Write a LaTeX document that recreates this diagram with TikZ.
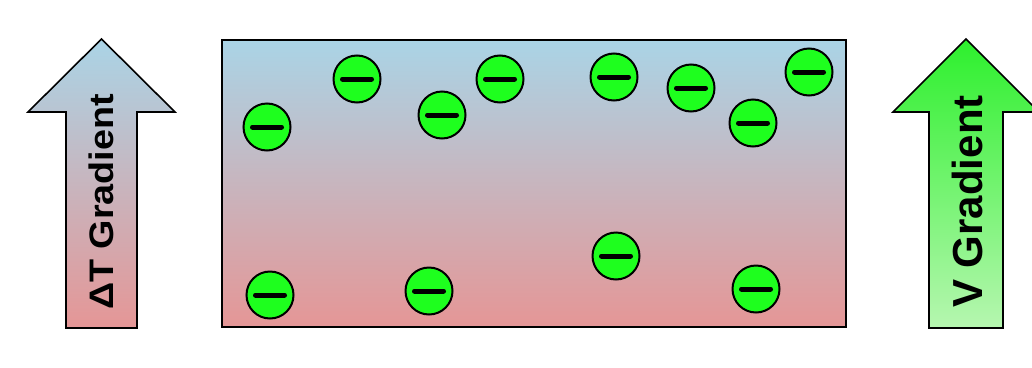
\documentclass[tikz,border=0pt]{standalone}
\usepackage{fontspec}
\setmainfont{Liberation Sans}
\definecolor{tblue}{RGB}{170,212,230}
\definecolor{tpink}{RGB}{229,150,150}
\definecolor{vtop}{RGB}{45,240,45}
\definecolor{vbot}{RGB}{182,246,176}
\definecolor{chargegreen}{RGB}{30,255,30}
\begin{document}
\begin{tikzpicture}[x=1pt,y=-1pt,
  charge/.style={circle, draw=black, line width=2pt, fill=chargegreen,
    minimum size=47pt, inner sep=0pt,
    path picture={\draw[line width=5pt, line cap=round]
      ([xshift=-14.5pt]path picture bounding box.center) --
      ([xshift=14.5pt]path picture bounding box.center);}},
  bigarrow/.style={draw=black, line width=1.6pt, line join=miter},
  label/.style={rotate=90, inner sep=0pt, text=black}]
\useasboundingbox (0,0) rectangle (1032,367);
% left arrow
\draw[bigarrow, top color=tblue, bottom color=tpink]
  (101.5,39) -- (175,112) -- (137,112) -- (137,328) -- (66,328) -- (66,112) -- (28,112) -- cycle;
\node[label, font=\bfseries\fontsize{34}{34}\selectfont] (tlab) at (101,202) {\scalebox{1.11}[1]{ΔT Gradient}};
% right arrow
\draw[bigarrow, top color=vtop, bottom color=vbot]
  (966,39) -- (1039,112) -- (1003,112) -- (1003,328) -- (929,328) -- (929,112) -- (893,112) -- cycle;
\node[label, font=\bfseries\fontsize{42}{42}\selectfont] (vlab) at (967,201.5) {V Gradient};
% box
\draw[line width=2pt, top color=tblue, bottom color=tpink] (222,40) rectangle (846,327);
% charges
\node[charge] (e1) at (267,127) {};
\node[charge] (e2) at (357,79) {};
\node[charge] (e3) at (442,115) {};
\node[charge] (e4) at (500,79) {};
\node[charge] (e5) at (614,77) {};
\node[charge] (e6) at (691,88) {};
\node[charge] (e7) at (753,123) {};
\node[charge] (e8) at (809,72) {};
\node[charge] (e9) at (270,295) {};
\node[charge] (e10) at (429,291) {};
\node[charge] (e11) at (616,256) {};
\node[charge] (e12) at (756,289) {};
\end{tikzpicture}
\end{document}
